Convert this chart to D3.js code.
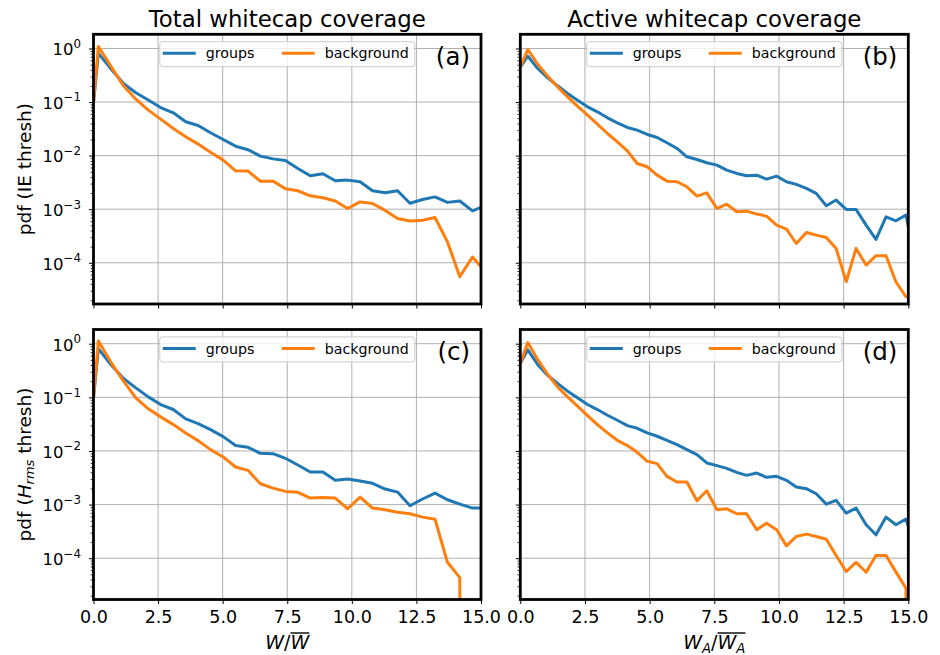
<!DOCTYPE html>
<html>
<head>
<meta charset="utf-8">
<script src="https://cdn.jsdelivr.net/npm/d3@7"></script>
<style>
  body { margin: 0; background: #fff; }
  svg { display: block; }
  text { font-family: "DejaVu Sans", sans-serif; fill: #000; }
</style>
</head>
<body>
<svg id="fig" width="940" height="655"></svg>
<script>
// ---- bin positions (normalised coverage) ----
const totalX = [0, 0.19, 0.67, 1.16, 1.64, 2.12, 2.60, 3.09, 3.57, 4.05, 4.53, 5.02, 5.50, 5.98, 6.46, 6.95,
  7.43, 7.91, 8.39, 8.88, 9.36, 9.84, 10.32, 10.80, 11.29, 11.77, 12.25, 12.74, 13.22, 13.70, 14.18, 14.67, 15.15];
const activeX = [0, 0.29, 0.67, 1.06, 1.44, 1.83, 2.21, 2.60, 2.98, 3.37, 3.75, 4.14, 4.52, 4.91, 5.29, 5.67,
  6.06, 6.44, 6.83, 7.21, 7.60, 7.98, 8.37, 8.75, 9.14, 9.52, 9.91, 10.29, 10.67, 11.06, 11.44, 11.83, 12.21,
  12.60, 12.98, 13.37, 13.75, 14.14, 14.52, 14.91, 15.29];

// ---- pdf values ----
// (a) total coverage, IE threshold
const totalIEGroups = [0.098, 0.81, 0.42, 0.222, 0.149, 0.109, 0.079, 0.063, 0.0428, 0.0366, 0.0267, 0.020,
  0.0150, 0.0129, 0.0098, 0.0087, 0.0081, 0.00575, 0.0042, 0.00458, 0.00339, 0.00349, 0.00325, 0.00221,
  0.00202, 0.00221, 0.00129, 0.00152, 0.0017, 0.00134, 0.00142, 0.00093, 0.00116];
const totalIEBackground = [0.098, 1.09, 0.468, 0.201, 0.113, 0.0706, 0.048, 0.0321, 0.0225, 0.0164, 0.0116,
  0.00824, 0.00521, 0.00514, 0.00334, 0.00334, 0.0024, 0.00221, 0.00178, 0.00163, 0.00142, 0.00103, 0.00137,
  0.00128, 0.00095, 0.00067, 0.0006, 0.00062, 0.0007, 0.000247, 0.000055, 0.000128, 0.00007];
// (b) active coverage, IE threshold
const activeIEGroups = [0.45, 0.72, 0.423, 0.2835, 0.201, 0.1446, 0.1086, 0.0815, 0.0658, 0.0508, 0.041,
  0.0336, 0.0299, 0.0248, 0.0218, 0.0174, 0.0136, 0.0095, 0.00848, 0.00735, 0.00665, 0.00536, 0.00465, 0.0042,
  0.00432, 0.00364, 0.00414, 0.00325, 0.0029, 0.00244, 0.00197, 0.00116, 0.00148, 0.00099, 0.00099, 0.000505,
  0.000273, 0.000722, 0.000608, 0.000776, 0.0000944];
const activeIEBackground = [0.45, 0.958, 0.51, 0.3046, 0.1926, 0.1253, 0.0839, 0.057, 0.0387, 0.0259, 0.0181,
  0.0123, 0.00714, 0.00619, 0.00432, 0.00334, 0.00325, 0.00262, 0.00175, 0.00202, 0.00103, 0.00124, 0.000895,
  0.00092, 0.00081, 0.000743, 0.000505, 0.000425, 0.000229, 0.000368, 0.000328, 0.000297, 0.000185, 0.0000442,
  0.000185, 0.0000905, 0.000135, 0.000135, 0.0000442, 0.0000232, 0.00003];
// (c) total coverage, Hrms threshold
const totalHrmsGroups = [0.098, 0.81, 0.41, 0.225, 0.15, 0.102, 0.0734, 0.0593, 0.0396, 0.0324, 0.025, 0.0185,
  0.0126, 0.0117, 0.00904, 0.0089, 0.0073, 0.00547, 0.00405, 0.00405, 0.00283, 0.003, 0.00275, 0.00249,
  0.00195, 0.00171, 0.00095, 0.00127, 0.00164, 0.00123, 0.00102, 0.00086, 0.00086];
const totalHrmsBackground = [0.098, 1.12, 0.454, 0.2, 0.098, 0.061, 0.0432, 0.031, 0.0217, 0.0156, 0.0106,
  0.00773, 0.00502, 0.00435, 0.00245, 0.00203, 0.00176, 0.00169, 0.00132, 0.00136, 0.00132, 0.000835, 0.00138,
  0.00086, 0.0008, 0.00072, 0.000674, 0.000584, 0.000535, 0.000084, 0.0000435, 0, 0];
// (d) active coverage, Hrms threshold
const activeHrmsGroups = [0.43, 0.77, 0.411, 0.256, 0.1814, 0.1304, 0.0979, 0.0735, 0.0592, 0.0464, 0.0374,
  0.0297, 0.0265, 0.0217, 0.0188, 0.0158, 0.01313, 0.01059, 0.00854, 0.00597, 0.00532, 0.00474, 0.00399,
  0.00351, 0.00388, 0.00322, 0.00336, 0.00283, 0.00212, 0.00198, 0.00159, 0.00102, 0.0012, 0.000694, 0.00086,
  0.00042, 0.000273, 0.000584, 0.00042, 0.000536, 0.000141];
const activeHrmsBackground = [0.43, 1.05, 0.51, 0.267, 0.157, 0.102, 0.0684, 0.0457, 0.031, 0.0217, 0.0158,
  0.0126, 0.00944, 0.00641, 0.0058, 0.00336, 0.00263, 0.00263, 0.00118, 0.00181, 0.0008, 0.000835, 0.000674,
  0.000674, 0.000339, 0.000451, 0.000339, 0.00017, 0.000254, 0.000281, 0.000254, 0.000226, 0.000112,
  0.0000564, 0.0000841, 0.0000547, 0.000112, 0.000112, 0.0000556, 0.0000275, 0];

// ---- axis ticks and labels ----
const xTicks = [0, 2.5, 5, 7.5, 10, 12.5, 15];
const yDecades = [0, -1, -2, -3, -4];
const colTitles = ["Total whitecap coverage", "Active whitecap coverage"];
const seriesNames = ["groups", "background"];
const seriesColors = ["#1f77b4", "#ff7f0e"];
const panelLabels = ["(a)", "(b)", "(c)", "(d)"];

// ---- layout ----
const cols = [{ left: 93.5, right: 481 }, { left: 520.3, right: 908.3 }];
const rows = [{ top: 34.3, bottom: 304 }, { top: 329.5, bottom: 599.5 }];
const yDomain = [Math.pow(10, -4.77), Math.pow(10, 0.265)];

const panels = [
  { col: 0, row: 0, x: totalX, series: [totalIEGroups, totalIEBackground] },
  { col: 1, row: 0, x: activeX, series: [activeIEGroups, activeIEBackground] },
  { col: 0, row: 1, x: totalX, series: [totalHrmsGroups, totalHrmsBackground] },
  { col: 1, row: 1, x: activeX, series: [activeHrmsGroups, activeHrmsBackground] }
];

const svg = d3.select("#fig");
const defs = svg.append("defs");
const fmt = d3.format(".1f");
// zero-valued bins are sent far below the axis, so the line plunges out of view
const nonPositiveClip = v => (v > 0 ? v : 1e-300);

panels.forEach((p, i) => {
  const { left, right } = cols[p.col];
  const { top, bottom } = rows[p.row];
  const x = d3.scaleLinear().domain([0, 15]).range([left, right]);
  const y = d3.scaleLog().domain(yDomain).range([bottom, top]);
  const g = svg.append("g");

  defs.append("clipPath").attr("id", "clip" + i)
    .append("rect").attr("x", left).attr("y", top)
    .attr("width", right - left).attr("height", bottom - top);

  // grid
  const grid = g.append("g").attr("stroke", "#b0b0b0").attr("stroke-width", 1);
  grid.selectAll("line.vx").data(xTicks).join("line")
    .attr("x1", d => x(d)).attr("x2", d => x(d)).attr("y1", top).attr("y2", bottom);
  grid.selectAll("line.hy").data(yDecades).join("line")
    .attr("x1", left).attr("x2", right)
    .attr("y1", d => y(Math.pow(10, d))).attr("y2", d => y(Math.pow(10, d)));

  // data lines
  const line = d3.line().x(d => x(d[0])).y(d => y(nonPositiveClip(d[1])));
  const lines = g.append("g").attr("clip-path", `url(#clip${i})`);
  p.series.forEach((vals, s) => {
    lines.append("path")
      .datum(p.x.map((xv, k) => [xv, vals[k]]))
      .attr("fill", "none")
      .attr("stroke", seriesColors[s])
      .attr("stroke-width", 3)
      .attr("stroke-linejoin", "round")
      .attr("d", line);
  });

  // x axis
  const xAxis = d3.axisBottom(x).tickValues(xTicks).tickSizeInner(4.5).tickSizeOuter(0).tickPadding(7)
    .tickFormat(p.row === 1 ? fmt : () => "");
  const gx = g.append("g").attr("transform", `translate(0,${bottom})`).call(xAxis);
  gx.select(".domain").remove();
  gx.selectAll("line").attr("stroke", "#000").attr("stroke-width", 1);
  gx.selectAll("text").attr("font-size", 17.5).attr("font-family", "DejaVu Sans").attr("fill", "#000");

  // y axis, minor then major
  const minor = y.ticks().filter(v => Math.abs(Math.log10(v) - Math.round(Math.log10(v))) > 1e-6);
  const gyMinor = g.append("g").attr("transform", `translate(${left},0)`)
    .call(d3.axisLeft(y).tickValues(minor).tickSizeInner(2.8).tickSizeOuter(0).tickFormat(() => ""));
  gyMinor.select(".domain").remove();
  gyMinor.selectAll("line").attr("stroke", "#000").attr("stroke-width", 0.8);

  const gy = g.append("g").attr("transform", `translate(${left},0)`)
    .call(d3.axisLeft(y).tickValues(yDecades.map(e => Math.pow(10, e))).tickSizeInner(4.5)
      .tickSizeOuter(0).tickPadding(8).tickFormat(() => ""));
  gy.select(".domain").remove();
  gy.selectAll("line").attr("stroke", "#000").attr("stroke-width", 1);
  if (p.col === 0) {
    gy.selectAll(".tick text").each(function (v) {
      const e = Math.round(Math.log10(v));
      const t = d3.select(this).attr("dy", null).attr("y", 6.3)
        .attr("font-size", 16.5).attr("font-family", "DejaVu Sans").attr("fill", "#000")
        .attr("text-anchor", "end");
      t.append("tspan").text("10");
      t.append("tspan").attr("dy", -7.5).attr("font-size", 11.8)
        .text(e === 0 ? "0" : "\u2212" + Math.abs(e));
    });
  }

  // frame
  g.append("rect").attr("x", left).attr("y", top)
    .attr("width", right - left).attr("height", bottom - top)
    .attr("fill", "none").attr("stroke", "#000").attr("stroke-width", 2.8);

  // legend
  const cx = (left + right) / 2;
  const lx = cx - 127.5, ly = top + 7.4;
  const lg = g.append("g");
  lg.append("rect").attr("x", lx).attr("y", ly).attr("width", 255).attr("height", 25)
    .attr("rx", 2.8).attr("fill", "#fff").attr("fill-opacity", 0.8)
    .attr("stroke", "#cccccc").attr("stroke-width", 1);
  const entryX = [3, 122];
  seriesNames.forEach((name, s) => {
    lg.append("line").attr("x1", lx + entryX[s]).attr("x2", lx + entryX[s] + 33)
      .attr("y1", ly + 11.6).attr("y2", ly + 11.6)
      .attr("stroke", seriesColors[s]).attr("stroke-width", 3);
    lg.append("text").attr("x", lx + entryX[s] + 43).attr("y", ly + 16.6)
      .attr("font-size", 14.2).text(name);
  });

  // panel letter
  g.append("text").attr("x", right - 11).attr("y", top + 30.5)
    .attr("text-anchor", "end").attr("font-size", 24.5).text(panelLabels[i]);
});

// column titles
cols.forEach((c, j) => {
  svg.append("text").attr("x", (c.left + c.right) / 2).attr("y", 26.5)
    .attr("text-anchor", "middle").attr("font-size", 22.8).text(colTitles[j]);
});

// y labels
rows.forEach((r, j) => {
  const t = svg.append("text")
    .attr("transform", `translate(30.5,${(r.top + r.bottom) / 2}) rotate(-90)`)
    .attr("text-anchor", "middle").attr("font-size", 18.5);
  if (j === 0) {
    t.text("pdf (IE thresh)");
  } else {
    t.append("tspan").text("pdf (");
    t.append("tspan").attr("font-style", "italic").text("H");
    t.append("tspan").attr("font-style", "italic").attr("font-size", 13).attr("dy", 3.5).text("rms");
    t.append("tspan").attr("dy", -3.5).text(" thresh)");
  }
});

// x labels with overline on the mean
function overline(textSel, from, to, baseline) {
  const node = textSel.node();
  const x0 = node.getStartPositionOfChar(from).x;
  const x1 = node.getEndPositionOfChar(to).x;
  svg.append("line").attr("x1", x0).attr("x2", x1)
    .attr("y1", baseline - 15.5).attr("y2", baseline - 15.5)
    .attr("stroke", "#000").attr("stroke-width", 1.4);
}
const xlBase = 648.5;
{
  const c = cols[0];
  const t = svg.append("text").attr("x", (c.left + c.right) / 2).attr("y", xlBase)
    .attr("text-anchor", "middle").attr("font-size", 19);
  t.append("tspan").attr("font-style", "italic").text("W");
  t.append("tspan").text("/");
  t.append("tspan").attr("font-style", "italic").text("W");
  overline(t, 2, 2, xlBase);
}
{
  const c = cols[1];
  const t = svg.append("text").attr("x", (c.left + c.right) / 2).attr("y", xlBase)
    .attr("text-anchor", "middle").attr("font-size", 19);
  t.append("tspan").attr("font-style", "italic").text("W");
  t.append("tspan").attr("font-style", "italic").attr("font-size", 13.3).attr("dy", 4).text("A");
  t.append("tspan").attr("dy", -4).text("/");
  t.append("tspan").attr("font-style", "italic").text("W");
  t.append("tspan").attr("font-style", "italic").attr("font-size", 13.3).attr("dy", 4).text("A");
  overline(t, 3, 4, xlBase);
}
</script>
</body>
</html>
